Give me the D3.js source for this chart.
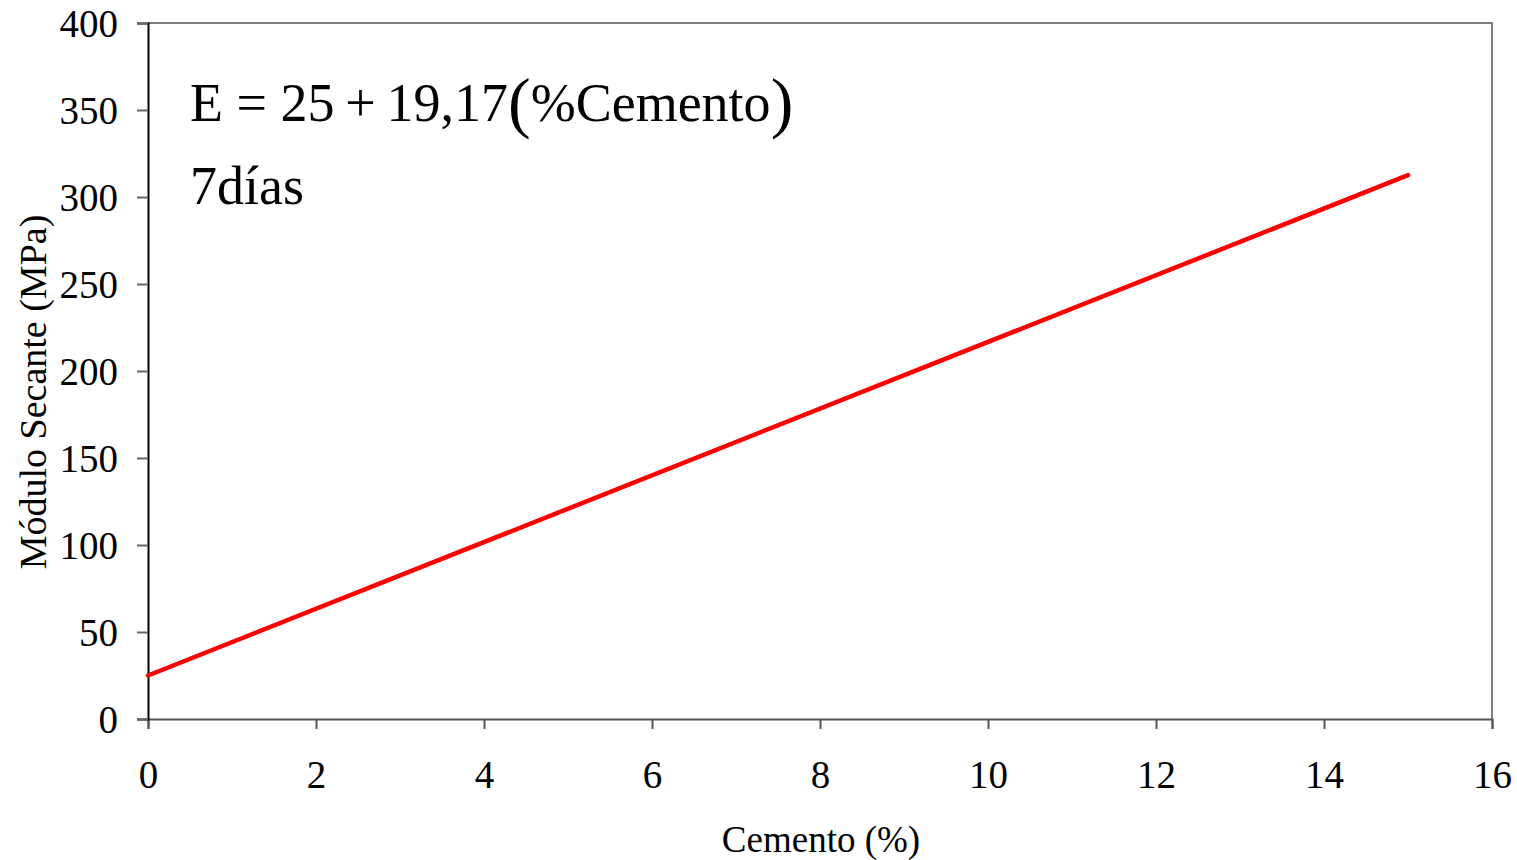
<!DOCTYPE html>
<html>
<head>
<meta charset="utf-8">
<script src="https://cdn.jsdelivr.net/npm/d3@7"></script>
<style>
  body { margin: 0; background: #fff; }
  text { font-family: "Liberation Serif", "Times New Roman", serif; fill: #000; }
</style>
</head>
<body>
<div id="chart"></div>
<script>
// regression line for 7 days, E = 25 + 19.17 * cement
var cementPct = [0, 15];
var modulusMPa = [25, 312.55];
var xTicks = [0, 2, 4, 6, 8, 10, 12, 14, 16];
var yTicks = [0, 50, 100, 150, 200, 250, 300, 350, 400];

var width = 1517, height = 860,
    margin = {top: 23, right: 25, bottom: 141, left: 148};

var svg = d3.select("#chart").append("svg")
    .attr("width", width)
    .attr("height", height);

var x = d3.scaleLinear().domain([0, 16]).range([margin.left, width - margin.right]);
var y = d3.scaleLinear().domain([0, 400]).range([height - margin.bottom, margin.top]);

// frame on top and right
svg.append("path")
    .attr("d", "M" + x(0) + "," + y(400) + "H" + x(16) + "V" + y(0))
    .attr("fill", "none")
    .attr("stroke", "#808080")
    .attr("stroke-width", 2);

// x axis
var xAxis = svg.append("g")
    .attr("transform", "translate(0," + y(0) + ")")
    .call(d3.axisBottom(x).tickValues(xTicks).tickSize(10).tickPadding(31));
xAxis.select(".domain").attr("stroke", "#555").attr("stroke-width", 2);
xAxis.selectAll(".tick line").attr("stroke", "#555").attr("stroke-width", 2);
xAxis.selectAll("text").style("font-size", "39px").attr("fill", "#000");

// y axis
var yAxis = svg.append("g")
    .attr("transform", "translate(" + x(0) + ",0)")
    .call(d3.axisLeft(y).tickValues(yTicks).tickSize(11).tickPadding(19));
yAxis.select(".domain").attr("stroke", "#000").attr("stroke-width", 2);
yAxis.selectAll(".tick line").attr("stroke", "#666").attr("stroke-width", 2);
yAxis.selectAll("text").style("font-size", "39px").attr("fill", "#000").attr("dy", "0.34em");

// the fitted line
var line = d3.line()
    .x((d, i) => x(cementPct[i]))
    .y(d => y(d));

svg.append("path")
    .datum(modulusMPa)
    .attr("d", line)
    .attr("fill", "none")
    .attr("stroke", "#ff0000")
    .attr("stroke-width", 4.5)
    .attr("stroke-linecap", "round");

// equation text
var eq = svg.append("text")
    .attr("x", 190)
    .attr("y", 121)
    .style("font-size", "54px");
eq.append("tspan").text("E = 25\u2009+\u200919,17");
eq.append("tspan").style("font-size", "68px").attr("dy", 4).text("(");
eq.append("tspan").attr("dy", -4).text("%Cemento");
eq.append("tspan").style("font-size", "68px").attr("dy", 4).text(")");

svg.append("text")
    .attr("x", 190)
    .attr("y", 204)
    .style("font-size", "54px")
    .text("7días");

// axis titles
svg.append("text")
    .attr("x", 821)
    .attr("y", 852)
    .attr("text-anchor", "middle")
    .style("font-size", "37px")
    .text("Cemento (%)");

svg.append("text")
    .attr("transform", "translate(46,392) rotate(-90)")
    .attr("text-anchor", "middle")
    .style("font-size", "38px")
    .text("Módulo Secante (MPa)");
</script>
</body>
</html>
